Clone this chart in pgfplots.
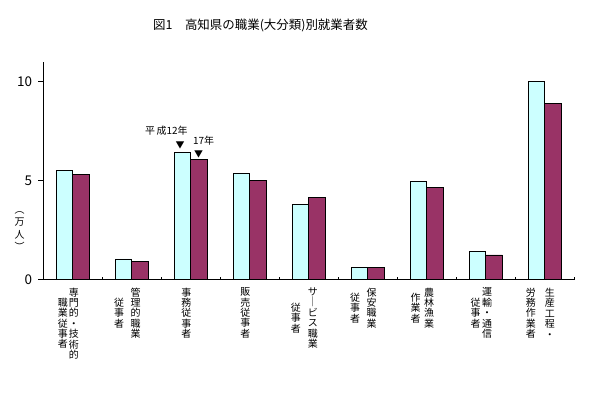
\documentclass[border=0pt]{standalone}
\usepackage{fontspec}
\setmainfont{Noto Sans CJK JP}
\usepackage{pgfplots}
\pgfplotsset{compat=1.18}
\definecolor{lightc}{HTML}{CCFFFF}
\definecolor{darkm}{HTML}{993366}
\newcommand{\vc}[1]{$\vcenter{\baselineskip=10.4bp\lineskiplimit=-\maxdimen\lineskip=0pt\halign{\hfil##\hfil\cr#1\crcr}}$}
\newcommand{\vg}[1]{\hspace{#1bp}}
\begin{document}
\begin{tikzpicture}[x=1bp,y=1bp]
\useasboundingbox (0,0) rectangle (589,-396);
\begin{axis}[
  at={(43.3bp,-279.5bp)}, anchor=south west,
  scale only axis, width=531bp, height=217.5bp,
  xmin=-0.5, xmax=8.5, ymin=0, ymax=11,
  axis lines*=left,
  axis line style={line width=0.9bp},
  ybar=0pt, bar width=16.5bp,
  ytick={0,5,10},
  tick align=outside, major tick length=5bp,
  tick style={black, line width=0.9bp},
  /pgf/number format/assume math mode=true,
  yticklabel style={font=\fontsize{13.5}{13.5}\selectfont, inner sep=0pt, anchor=east, xshift=-6bp},
  xtick={0,...,8},
  xtick style={draw=none},
  xticklabel style={font=\fontsize{10}{10.4}\selectfont, inner sep=0pt, anchor=north, yshift=-3bp, xshift=-4.5bp},
  xticklabels={
    {\vc{職\cr 業\cr 従\cr 事\cr 者}\vg{1}\vc{専\cr 門\cr 的\cr ・\cr 技\cr 術\cr 的}},
    {\vc{従\cr 事\cr 者}\vg{6.5}\vc{管\cr 理\cr 的\cr 職\cr 業}},
    {\vc{事\cr 務\cr 従\cr 事\cr 者}},
    {\vc{販\cr 売\cr 従\cr 事\cr 者}},
    {\vc{従\cr 事\cr 者}\vg{7}\vc{サ\cr ｜\cr ビ\cr ス\cr 職\cr 業}},
    {\vc{従\cr 事\cr 者}\vg{6.5}\vc{保\cr 安\cr 職\cr 業}},
    {\vc{作\cr 業\cr 者}\vg{3.5}\vc{農\cr 林\cr 漁\cr 業}},
    {\vc{従\cr 事\cr 者}\vg{1.5}\vc{運\cr 輸\cr ・\cr 通\cr 信}},
    {\vc{労\cr 務\cr 作\cr 業\cr 者}\vg{9}\vc{生\cr 産\cr 工\cr 程\cr ・}}
  },
  extra x ticks={-0.5,0.5,...,8.5},
  extra x tick labels={},
  extra x tick style={tick align=inside, major tick length=3bp, xtick style={draw=black}},
  clip=false,
]
\addplot[fill=lightc, draw=black, line width=0.9bp] coordinates {
  (0,5.51) (1,1.04) (2,6.42) (3,5.36) (4,3.80) (5,0.59) (6,4.96) (7,1.44) (8,10.03)};
\addplot[fill=darkm, draw=black, line width=0.9bp] coordinates {
  (0,5.31) (1,0.90) (2,6.07) (3,4.99) (4,4.17) (5,0.59) (6,4.66) (7,1.24) (8,8.88)};
\node[font=\fontsize{10}{10}\selectfont, inner sep=0pt] at (axis cs:1.585,7.53) {平\,成12年};
\node[font=\fontsize{10}{10}\selectfont, inner sep=0pt] at (axis cs:2.217,7.02) {17年};
\node[font=\fontsize{9}{9}\selectfont, inner sep=0pt] at (axis cs:1.817,6.77) {▼};
\node[font=\fontsize{9}{9}\selectfont, inner sep=0pt] at (axis cs:2.132,6.33) {▼};
\end{axis}
\node[font=\fontsize{12.5}{12.5}\selectfont, inner sep=0pt] at (260.5,-25) {図1　高知県の職業(大分類)別就業者数};
\node[font=\fontsize{10}{10}\selectfont, inner sep=0pt] at (19.5,-231) {$\vcenter{\baselineskip=12.5bp\lineskiplimit=-\maxdimen\lineskip=0pt\halign{\hfil#\hfil\cr ︵\cr 万\cr 人\cr ︶\crcr}}$};
\end{tikzpicture}
\end{document}
